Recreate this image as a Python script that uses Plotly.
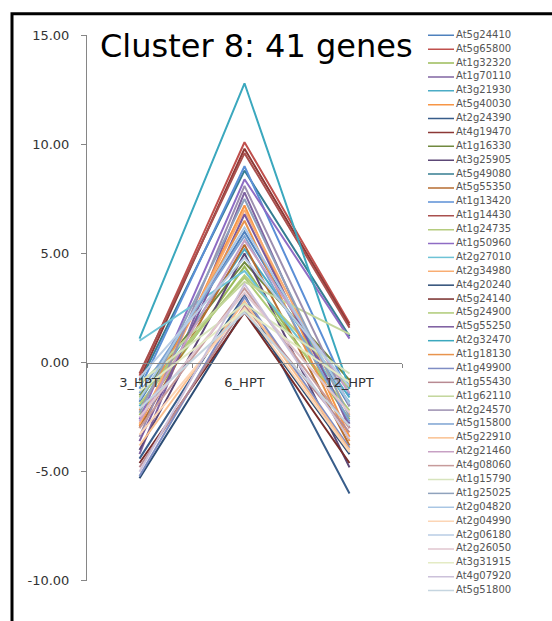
import plotly.graph_objects as go

W, H = 552, 621

categories = ["3_HPT", "6_HPT", "12_HPT"]

genes = ["At5g24410", "At5g65800", "At1g32320", "At1g70110", "At3g21930", "At5g40030",
         "At2g24390", "At4g19470", "At1g16330", "At3g25905", "At5g49080", "At5g55350",
         "At1g13420", "At1g14430", "At1g24735", "At1g50960", "At2g27010", "At2g34980",
         "At4g20240", "At5g24140", "At5g24900", "At5g55250", "At2g32470", "At1g18130",
         "At1g49900", "At1g55430", "At1g62110", "At2g24570", "At5g15800", "At5g22910",
         "At2g21460", "At4g08060", "At1g15790", "At1g25025", "At2g04820", "At2g04990",
         "At2g06180", "At2g26050", "At3g31915", "At4g07920", "At5g51800"]

hpt3 = [-1.8, -0.6, -2.4, -4.2, -2.0, -2.9, -4.4, -0.8, -1.5, -4.0, -0.9, -3.0,
        -1.2, -0.5, -1.9, -2.6, 1.0, -2.8, -5.3, -4.6, -1.6, -3.6, 1.1, -2.2,
        -5.2, -4.8, -1.0, -3.4, -1.4, -3.8, -2.7, -3.0, -0.9, -2.3, -1.7, -3.3,
        -0.7, -2.5, -1.3, -5.0, -2.1]
hpt6 = [6.0, 10.1, 4.4, 7.8, 5.2, 7.2, 3.1, 9.8, 4.6, 5.0, 8.8, 5.4,
        9.0, 9.6, 4.0, 8.4, 4.2, 7.0, 2.4, 2.3, 3.9, 6.8, 12.8, 6.5,
        3.0, 2.6, 3.7, 8.1, 5.8, 2.8, 5.6, 3.4, 2.7, 7.5, 6.2, 2.5,
        4.8, 3.2, 2.4, 3.6, 2.3]
hpt12 = [-2.0, 1.8, -2.6, -3.0, -1.6, -3.4, -6.0, 1.7, -0.8, -4.8, 1.2, -3.8,
         -1.5, 1.6, -1.2, 1.1, -1.8, -2.4, -4.2, -4.6, -2.2, -2.8, -1.2, -3.6,
         -3.9, -3.2, 1.3, -2.0, -2.7, -4.0, -1.4, -3.0, -0.5, -2.5, -1.9, -4.1,
         -1.1, -2.3, -0.9, -3.5, -2.9]

ytick_vals = [-10, -5, 0, 5, 10, 15]
ytick_text = ["-10.00", "-5.00", "0.00", "5.00", "10.00", "15.00"]

colors = [
    "#4F81BD", "#C0504D", "#9BBB59", "#8064A2", "#4BACC6", "#F79646",
    "#385D8A", "#8C3836", "#71893F", "#5C4776", "#357D91", "#B66D31",
    "#5B8FD6", "#A9504E", "#B5CC7E", "#8E6CC4", "#6EC3D6", "#F9AD72",
    "#2C4D75", "#772C2A", "#AFCB77", "#7A5A9E", "#3BA8BE", "#E8944E",
    "#7F8DC4", "#B88A92", "#C3D69B", "#9C8FB0", "#7DA3D2", "#FAC090",
    "#C7A0C4", "#C79B9B", "#D7E4BD", "#8FA2BC", "#A9C6E4", "#FCD5B5",
    "#B9CDE5", "#E0C6CF", "#E4EBC4", "#CCC1DA", "#C5D5E0",
]

fig = go.Figure()

# main lines
for i, g in enumerate(genes):
    fig.add_trace(go.Scatter(
        x=categories, y=[hpt3[i], hpt6[i], hpt12[i]],
        mode="lines", name=g, line=dict(color=colors[i], width=2),
        showlegend=False, xaxis="x", yaxis="y"))

# custom legend (sample lines + names) on secondary axes
for i, g in enumerate(genes):
    fig.add_trace(go.Scatter(
        x=[0, 2.6], y=[i, i], mode="lines",
        line=dict(color=colors[i], width=1.5),
        showlegend=False, hoverinfo="skip", xaxis="x2", yaxis="y2"))
fig.add_trace(go.Scatter(
    x=[2.8] * len(genes), y=list(range(len(genes))), mode="text", text=genes,
    textposition="middle right",
    textfont=dict(family="DejaVu Sans", size=10, color="#555555"),
    showlegend=False, hoverinfo="skip", xaxis="x2", yaxis="y2"))

# plot area geometry (px)
px_left, px_right = 87, 402
px_top, px_bottom = 29, 588
ydom = [(H - px_bottom) / H, (H - px_top) / H]
ymin, ymax = -10, 15
zero_pos = ydom[0] + (0 - ymin) / (ymax - ymin) * (ydom[1] - ydom[0])

# legend geometry: first entry / last entry rows
leg_first, leg_last = 29, 598
step = (leg_last - leg_first) / 40
leg_top, leg_bottom = leg_first - step / 2, leg_last + step / 2

axis_col = "#868686"
fig.update_layout(
    width=W, height=H, autosize=False,
    margin=dict(l=0, r=0, t=0, b=0),
    paper_bgcolor="white", plot_bgcolor="white",
    xaxis=dict(domain=[px_left / W, px_right / W], type="category",
               categoryorder="array", categoryarray=categories,
               range=[-0.5, 2.5], anchor="free", position=zero_pos,
               showline=True, linecolor=axis_col, linewidth=1,
               ticks="outside", tickson="boundaries", ticklen=4, tickcolor=axis_col,
               showgrid=False, zeroline=False,
               tickfont=dict(family="DejaVu Sans", size=13, color="#333333"),
               ticklabelstandoff=8),
    yaxis=dict(domain=ydom, range=[ymin, ymax],
               tickvals=ytick_vals, ticktext=ytick_text,
               showline=True, linecolor=axis_col, linewidth=1,
               ticks="outside", ticklen=5, tickcolor=axis_col,
               showgrid=False, zeroline=False, anchor="x",
               tickfont=dict(family="DejaVu Sans", size=13, color="#333333"),
               ticklabelstandoff=9),
    xaxis2=dict(domain=[428 / W, 1.0], range=[0, 12.4], visible=False,
                anchor="y2"),
    yaxis2=dict(domain=[(H - leg_bottom) / H, (H - leg_top) / H], range=[40.5, -0.5],
                visible=False, anchor="x2"),
    annotations=[dict(text="Cluster 8: 41 genes", xref="paper", yref="paper",
                      x=98 / W, y=(H - 40) / H, xanchor="left", yanchor="middle",
                      showarrow=False,
                      font=dict(family="DejaVu Sans", size=32, color="black"))],
    shapes=[dict(type="rect", xref="paper", yref="paper",
                 x0=12 / W, x1=1.02, y0=-0.02, y1=(H - 7) / H,
                 line=dict(color="black", width=3), layer="above")],
)

fig.write_html("out.html", config={"displayModeBar": False},
               post_script="document.body.style.margin='0';document.body.style.overflow='hidden';")
